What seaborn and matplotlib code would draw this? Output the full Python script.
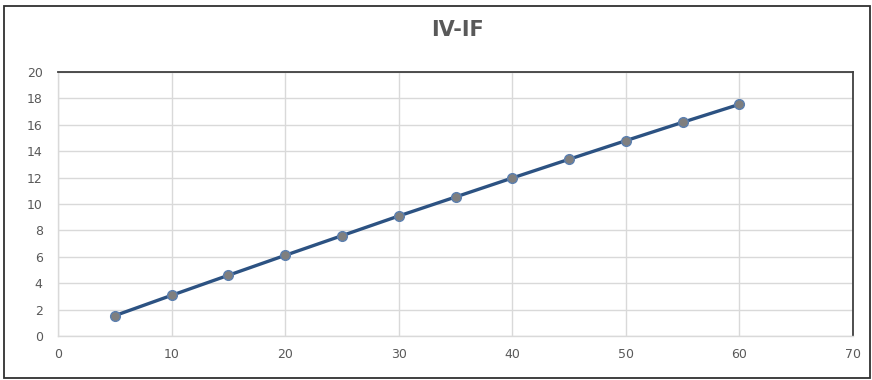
import matplotlib
matplotlib.use("Agg")
import matplotlib.pyplot as plt
import seaborn as sns
import pandas as pd
from matplotlib.patches import Rectangle

# IV-IF characteristic
iv = [5, 10, 15, 20, 25, 30, 35, 40, 45, 50, 55, 60]
if_vals = [1.54, 3.08, 4.6, 6.11, 7.6, 9.09, 10.53, 11.97, 13.39, 14.8, 16.19, 17.55]
x_ticks = [0, 10, 20, 30, 40, 50, 60, 70]
y_ticks = [0, 2, 4, 6, 8, 10, 12, 14, 16, 18, 20]

df = pd.DataFrame({"IV": iv, "IF": if_vals})

sns.set_style("white")
plt.rcParams["font.family"] = ["DejaVu Sans"]

fig = plt.figure(figsize=(8.72, 3.8), dpi=100)
ax = fig.add_axes([58 / 872, 44 / 380, 795 / 872, 264 / 380])

sns.lineplot(data=df, x="IV", y="IF", ax=ax, color="#2c5282", linewidth=2.4,
             marker="o", markersize=7, markerfacecolor="#7f7f7f",
             markeredgecolor="#5b7fb0", markeredgewidth=1.0)

ax.set_xlim(0, 70)
ax.set_ylim(0, 20)
ax.set_xticks(x_ticks)
ax.set_yticks(y_ticks)
ax.grid(True, color="#d9d9d9", linewidth=1.0)
ax.set_axisbelow(True)
ax.set_xlabel("")
ax.set_ylabel("")
ax.tick_params(axis="both", length=0, labelsize=9, labelcolor="#595959")
ax.tick_params(axis="y", pad=11)
ax.tick_params(axis="x", pad=9)

for side in ("left", "bottom"):
    ax.spines[side].set_color("#d9d9d9")
    ax.spines[side].set_linewidth(1.0)
for side in ("top", "right"):
    ax.spines[side].set_color("#404040")
    ax.spines[side].set_linewidth(1.3)
    ax.spines[side].set_visible(True)

fig.text(457 / 872, 1 - 30 / 380, "IV-IF", ha="center", va="center",
         fontsize=15, fontweight="bold", color="#595959")

# outer chart frame
fig.patches.append(Rectangle((4 / 872, 2 / 380), 866 / 872, 372 / 380,
                             transform=fig.transFigure, fill=False,
                             edgecolor="#303030", linewidth=1.3))

fig.savefig("out.png", dpi=100)
